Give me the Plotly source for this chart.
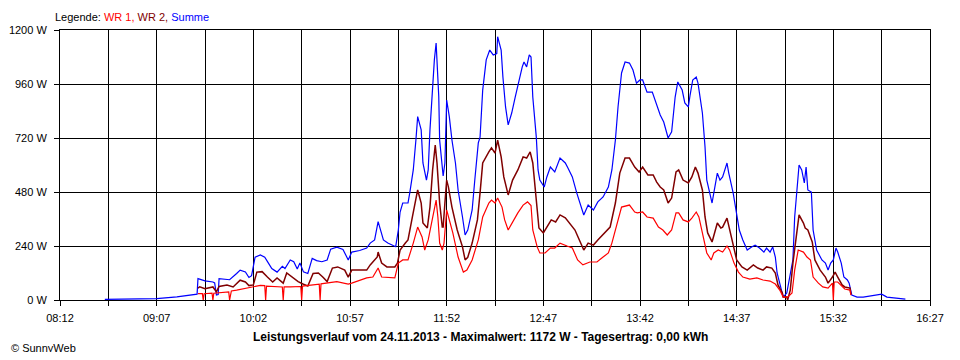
import plotly.graph_objects as go

# ---------------- data ----------------
X_LABELS = ["08:12", "09:07", "10:02", "10:57", "11:52", "12:47", "13:42", "14:37", "15:32", "16:27"]
Y_TICKS = [0, 240, 480, 720, 960, 1200]

SUM_T = ["08:37:30", "08:52", "09:07", "09:18:30", "09:26", "09:30", "09:30:30", "09:34:30", "09:39", "09:40",
         "09:41", "09:42", "09:42:30", "09:48:30", "09:52:30", "09:54:30", "09:57:30", "09:59:30", "10:01", "10:03",
         "10:06", "10:08:30", "10:10:30", "10:12:30", "10:15:30", "10:18:30", "10:20", "10:23", "10:25", "10:27",
         "10:28:30", "10:30:30", "10:33", "10:35:30", "10:38", "10:41", "10:44", "10:46", "10:49:30", "10:53",
         "10:56", "10:58", "11:02:30", "11:06:30", "11:08:30", "11:11", "11:13", "11:14", "11:16", "11:18:30",
         "11:21:30", "11:23", "11:24:30", "11:25:30", "11:27", "11:30", "11:31", "11:33", "11:34:30", "11:35:30",
         "11:37:30", "11:38:30", "11:40:30", "11:41:30", "11:42:30", "11:44", "11:45", "11:46", "11:46:30", "11:47:30",
         "11:48", "11:49:30", "11:50", "11:51", "11:52", "11:53:30", "11:55", "11:57", "11:58:30", "12:01",
         "12:02:30", "12:04", "12:06:30", "12:08", "12:10", "12:11", "12:12:30", "12:14:30", "12:16:30", "12:18:30",
         "12:20:30", "12:21", "12:23", "12:24", "12:25:30", "12:27", "12:29", "12:31", "12:32:30", "12:35",
         "12:36", "12:37:30", "12:39", "12:40", "12:41", "12:43", "12:44", "12:45", "12:47:30", "12:49",
         "12:51", "12:53:30", "12:56:30", "12:59:30", "13:01", "13:03:30", "13:06", "13:08", "13:10", "13:12:30",
         "13:15:30", "13:18", "13:21", "13:24", "13:26", "13:28", "13:29:30", "13:31:30", "13:33:30", "13:36",
         "13:38", "13:40", "13:42", "13:43:30", "13:46", "13:49", "13:51", "13:53:30", "13:55:30", "13:58",
         "14:00", "14:02", "14:03:30", "14:06", "14:07:30", "14:09:30", "14:10:30", "14:12", "14:14", "14:15",
         "14:17:30", "14:19", "14:20", "14:22", "14:23", "14:24", "14:26", "14:27:30", "14:29", "14:31:30",
         "14:32:30", "14:35", "14:36:30", "14:38:30", "14:40:30", "14:43", "14:45:30", "14:47:30", "14:50", "14:52:30",
         "14:54", "14:56", "14:57:30", "14:59", "15:00", "15:01:30", "15:03:30", "15:05:30", "15:07", "15:09",
         "15:10", "15:11:30", "15:12:30", "15:14", "15:15:30", "15:16:30", "15:17:30", "15:19:30", "15:20:30", "15:22:30",
         "15:25:30", "15:27:30", "15:29", "15:30:30", "15:32", "15:33:30", "15:34:30", "15:36:30", "15:38", "15:40",
         "15:41", "15:42:30", "15:45:30", "15:49", "15:53", "15:57", "15:59:30", "16:02:30", "16:06", "16:13"]
SUM_W = [3, 4, 6, 14, 20, 26, 95, 85, 80, 76,
         22, 24, 95, 90, 118, 133, 125, 100, 108, 190,
         200, 190, 165, 140, 124, 150, 140, 178, 170, 138,
         165, 125, 118, 185, 175, 170, 178, 226, 235, 225,
         178, 213, 220, 231, 253, 267, 348, 324, 267, 253,
         244, 237, 311, 391, 431, 431, 476, 578, 711, 815,
         756, 609, 533, 578, 756, 948, 1067, 1142, 1053, 904,
         711, 564, 551, 609, 889, 815, 711, 609, 489, 369,
         289, 311, 400, 533, 698, 724, 933, 1067, 1111, 1089,
         1095, 1170, 1111, 991, 858, 778, 831, 902, 955, 1036,
         1058, 1036, 1089, 1080, 902, 724, 578, 533, 502, 547,
         591, 569, 631, 609, 587, 547, 476, 431, 378, 422,
         400, 436, 458, 502, 578, 711, 858, 1009, 1058, 1053,
         1022, 964, 978, 978, 924, 924, 876, 822, 791, 720,
         747, 902, 969, 933, 876, 858, 911, 978, 991, 964,
         831, 680, 533, 458, 431, 476, 564, 533, 547, 609,
         564, 476, 400, 311, 267, 222, 236, 244, 231, 213,
         231, 213, 236, 191, 120, 75, 13, 31, 102, 178,
         369, 533, 600, 578, 520, 591, 489, 480, 311, 222,
         178, 164, 133, 164, 178, 231, 213, 164, 102, 89,
         75, 22, 13, 13, 18, 22, 26, 13, 9, 4]

WR2_T = ["09:30:30", "09:31:30", "09:34:30", "09:39", "09:41", "09:42:30", "09:47", "09:50:30", "09:54:30", "09:57:30",
         "09:59:30", "10:02", "10:04", "10:07", "10:10", "10:13", "10:15:30", "10:19", "10:21", "10:24:30",
         "10:27:30", "10:30:30", "10:33", "10:36", "10:39", "10:41:30", "10:44", "10:47", "10:50", "10:54",
         "10:56", "10:58", "11:06:30", "11:08:30", "11:12:30", "11:13", "11:15", "11:18", "11:22:30", "11:24",
         "11:25:30", "11:28:30", "11:30", "11:32:30", "11:34:30", "11:35:30", "11:37:30", "11:38:30", "11:41", "11:42:30",
         "11:44", "11:45:30", "11:46:30", "11:48", "11:49:30", "11:50", "11:51", "11:52", "11:53", "11:55",
         "11:58", "12:01", "12:02:30", "12:04", "12:06:30", "12:09:30", "12:11", "12:12:30", "12:16", "12:17:30",
         "12:19:30", "12:21", "12:23", "12:24:30", "12:27", "12:29:30", "12:32:30", "12:35:30", "12:37:30", "12:39:30",
         "12:41", "12:43", "12:44:30", "12:47", "12:49", "12:51:30", "12:54", "12:56:30", "12:59:30", "13:02",
         "13:05", "13:08", "13:10", "13:12:30", "13:15:30", "13:18", "13:22", "13:25", "13:28", "13:30:30",
         "13:33:30", "13:36", "13:39", "13:41:30", "13:43:30", "13:46:30", "13:49:30", "13:51:30", "13:53:30", "13:55:30",
         "13:58", "14:00", "14:02:30", "14:04", "14:06:30", "14:09:30", "14:11:30", "14:13:30", "14:15", "14:17:30",
         "14:19", "14:20:30", "14:23", "14:24:30", "14:26", "14:28", "14:29", "14:31:30", "14:33", "14:35",
         "14:37", "14:40", "14:43", "14:46:30", "14:49", "14:52", "14:54", "14:57", "14:59", "15:00:30",
         "15:03", "15:03:30", "15:05:30", "15:06", "15:07:30", "15:09", "15:11:30", "15:12:30", "15:15", "15:16",
         "15:17:30", "15:20", "15:21:30", "15:24:30", "15:27:30", "15:29", "15:31:30", "15:33", "15:34:30", "15:37",
         "15:38:30", "15:41:30", "15:42"]
WR2_W = [53, 59, 50, 58, 36, 60, 67, 58, 88, 80,
         64, 67, 124, 126, 102, 80, 98, 75, 120, 100,
         82, 70, 62, 118, 120, 102, 82, 142, 147, 133,
         102, 133, 133, 156, 191, 213, 164, 147, 147, 164,
         222, 253, 267, 369, 444, 489, 431, 342, 320, 413,
         578, 689, 609, 431, 324, 324, 431, 533, 502, 413,
         311, 236, 178, 190, 253, 356, 476, 609, 658, 676,
         653, 711, 636, 547, 467, 533, 578, 636, 631, 658,
         609, 431, 320, 298, 324, 356, 347, 378, 365, 342,
         311, 258, 222, 253, 244, 267, 298, 324, 431, 564,
         631, 631, 591, 569, 591, 556, 556, 524, 502, 489,
         431, 453, 569, 578, 533, 520, 547, 591, 564, 489,
         369, 298, 258, 298, 342, 320, 324, 364, 311, 253,
         178, 147, 133, 156, 142, 133, 147, 142, 120, 67,
         31, 13, 13, 0, 44, 164, 311, 378, 342, 320,
         311, 258, 178, 133, 102, 75, 102, 124, 102, 67,
         58, 53, 25]

WR1_T = ["09:30:30", "09:33", "09:33:30", "09:34", "09:38:30", "09:39", "09:39:30", "09:48", "09:48:30", "09:49:30",
         "09:52:30", "10:02", "10:06", "10:08:30", "10:09", "10:09:30", "10:15:30", "10:18:30", "10:19", "10:19:30",
         "10:23", "10:29", "10:29:30", "10:30", "10:39:30", "10:40", "10:40:30", "10:45:30", "10:49:30", "10:56",
         "10:58", "11:06:30", "11:10", "11:13", "11:15", "11:22:30", "11:24:30", "11:27", "11:30", "11:33",
         "11:35:30", "11:38", "11:39:30", "11:41:30", "11:44", "11:46", "11:47", "11:48", "11:49:30", "11:50:30",
         "11:52", "11:53:30", "11:55:30", "11:58:30", "12:01:30", "12:03:30", "12:06:30", "12:10", "12:12:30", "12:16",
         "12:17:30", "12:19:30", "12:21", "12:23:30", "12:25", "12:27", "12:29:30", "12:32:30", "12:35:30", "12:38",
         "12:40", "12:41", "12:43:30", "12:45", "12:48", "12:51", "12:53:30", "12:56:30", "13:00:30", "13:03:30",
         "13:06:30", "13:09:30", "13:13:30", "13:17:30", "13:21", "13:24", "13:26", "13:29", "13:31:30", "13:36",
         "13:39", "13:40:30", "13:43:30", "13:46", "13:49:30", "13:52:30", "13:55", "13:57:30", "14:00", "14:02:30",
         "14:04", "14:06:30", "14:09:30", "14:11:30", "14:14", "14:15:30", "14:18", "14:20", "14:22:30", "14:24",
         "14:26:30", "14:29", "14:31:30", "14:33", "14:35:30", "14:38", "14:40:30", "14:44:30", "14:48:30", "14:52",
         "14:56", "14:59", "15:01:30", "15:03:30", "15:06", "15:08:30", "15:10", "15:12", "15:15", "15:17",
         "15:19", "15:20:30", "15:23:30", "15:26", "15:29", "15:31:30", "15:32", "15:32:30", "15:34:30", "15:36",
         "15:38:30", "15:41:30", "15:42"]
WR1_W = [28, 28, 0, 28, 30, 0, 30, 36, 0, 40,
         44, 58, 65, 64, 0, 62, 60, 58, 0, 58,
         58, 60, 0, 62, 70, 0, 72, 77, 82, 71,
         75, 98, 102, 142, 102, 98, 164, 178, 178, 253,
         324, 280, 222, 267, 369, 444, 369, 253, 222, 253,
         400, 356, 298, 191, 124, 133, 178, 267, 369, 431,
         444, 431, 453, 413, 356, 311, 347, 387, 422, 436,
         420, 311, 236, 209, 209, 231, 231, 253, 240, 231,
         178, 156, 169, 169, 191, 209, 253, 342, 413, 422,
         391, 387, 391, 369, 364, 324, 311, 289, 311, 387,
         387, 356, 347, 364, 391, 369, 280, 209, 178, 209,
         222, 213, 240, 222, 164, 124, 102, 93, 98, 89,
         84, 71, 44, 13, 13, 31, 133, 222, 213, 191,
         178, 102, 75, 58, 53, 75, 0, 80, 80, 67,
         49, 44, 22]


def tmin(s):
    p = [int(v) for v in s.split(":")]
    return p[0] * 60 + p[1] + (p[2] / 60 if len(p) > 2 else 0)


# x ticks: labelled every 55 min, extra unlabelled grid line halfway between
label_min = [tmin(s) for s in X_LABELS]
tickvals, ticktext = [], []
for i, v in enumerate(label_min):
    tickvals.append(v)
    ticktext.append(X_LABELS[i])
    if i < len(label_min) - 1:
        tickvals.append((v + label_min[i + 1]) / 2)
        ticktext.append("")

FONT = "Liberation Sans, Arial, sans-serif"

# page body has an 8px default margin: figure is sized/positioned to compensate
W, H = 944, 344
ML, MR, MT, MB = 52, 22, 22, 52
PW, PH = W - ML - MR, H - MT - MB


def px(xp):  # page x pixel -> paper coordinate
    return (xp - 8 - ML) / PW


def py(yp):  # page y pixel -> paper coordinate
    return (8 + MT + PH - yp) / PH


fig = go.Figure()
fig.add_trace(go.Scatter(x=[tmin(t) for t in SUM_T], y=SUM_W, mode="lines", name="Summe",
                         line=dict(color="#0000FF", width=1.2)))
fig.add_trace(go.Scatter(x=[tmin(t) for t in WR2_T], y=WR2_W, mode="lines", name="WR 2",
                         line=dict(color="#800000", width=1.5)))
fig.add_trace(go.Scatter(x=[tmin(t) for t in WR1_T], y=WR1_W, mode="lines", name="WR 1",
                         line=dict(color="#FF0000", width=1.2)))

fig.update_layout(
    width=W, height=H,
    margin=dict(l=ML, r=MR, t=MT, b=MB, autoexpand=False),
    paper_bgcolor="white", plot_bgcolor="white",
    showlegend=False,
    font=dict(family=FONT, size=11, color="black"),
    xaxis=dict(range=[label_min[0], label_min[-1]], tickmode="array", tickvals=tickvals, ticktext=ticktext,
               showgrid=True, gridcolor="black", gridwidth=1, showline=True, linecolor="black", linewidth=1,
               mirror=True, ticks="outside", ticklen=5, tickcolor="black", zeroline=False,
               ticklabelstandoff=3, automargin=False,
               tickfont=dict(family=FONT, size=11, color="black")),
    yaxis=dict(range=[0, 1200], tickmode="array", tickvals=Y_TICKS, ticktext=[f"{v} W" for v in Y_TICKS],
               showgrid=True, gridcolor="black", gridwidth=1, showline=True, linecolor="black", linewidth=1,
               mirror=True, ticks="outside", ticklen=5, tickcolor="black", zeroline=False,
               ticklabelstandoff=5, automargin=False,
               tickfont=dict(family=FONT, size=11, color="black")),
    annotations=[
        dict(xref="paper", yref="paper", x=px(53), y=py(17), xanchor="left", yanchor="middle",
             showarrow=False, font=dict(family=FONT, size=11, color="black"),
             text="Legende: <span style='color:#FF0000'>WR 1, </span><span style='color:#800000'>WR 2, </span>"
                  "<span style='color:#0000FF'>Summe</span>"),
        dict(xref="paper", yref="paper", x=px(480), y=py(337), xanchor="center", yanchor="middle",
             showarrow=False, font=dict(family=FONT, size=12, color="black"),
             text="<b>Leistungsverlauf vom 24.11.2013 - Maximalwert: 1172 W - Tagesertrag: 0,00 kWh</b>"),
        dict(xref="paper", yref="paper", x=px(9), y=py(348), xanchor="left", yanchor="middle",
             showarrow=False, font=dict(family=FONT, size=11, color="black"),
             text="© SunnyWeb"),
    ],
)

fig.write_html("out.html")
